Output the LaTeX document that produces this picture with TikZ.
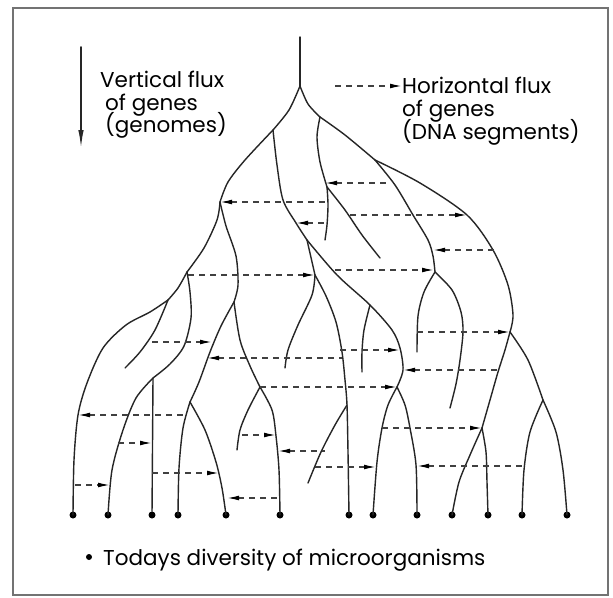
\documentclass[tikz,border=0pt]{standalone}
\usepackage{fontspec}
\setmainfont{Poppins}
\usetikzlibrary{arrows.meta}

\begin{document}
\begin{tikzpicture}[
  x=1pt, y=-1pt,
  font=\fontsize{21.5}{24}\selectfont,
  >={Latex[length=12pt,width=4.8pt,black]},
  lin/.style={line width=1.4pt, black!85, line cap=round},
  flux/.style={line width=1.3pt, black!75, dash pattern=on 6pt off 5pt},
  tipdot/.style={circle, fill=black, inner sep=0pt, minimum size=7pt},
  lbl/.style={anchor=base west, inner sep=0pt}
]
  \useasboundingbox (0,0) rectangle (613,597);
  \fill[white] (0,0) rectangle (613,597);
  \draw[line width=1.2pt, black!55] (13,8) rectangle (608,595);

  % legend
  \coordinate (vtop) at (81,47);
  \coordinate (vbot) at (81,148);
  \draw[lin, line width=1.6pt, -{Latex[length=18pt,width=5.5pt]}] (vtop) -- (vbot);
  \node[lbl] (vert1) at (100,87) {Vertical flux};
  \node[lbl] (vert2) at (105,110) {of genes};
  \node[lbl] (vert3) at (105,132) {(genomes)};
  \node[lbl] (hor1) at (402,93) {Horizontal flux};
  \node[lbl] (hor2) at (402,116) {of genes};
  \node[lbl] (hor3) at (402,139) {(DNA segments)};
  \coordinate (hstart) at (335,86);
  \draw[flux, ->] (hstart) -- (hor1.west |- hstart);

  % branch points
  \coordinate (R0) at (300,86);
  \coordinate (L1) at (273,130);
  \coordinate (L2) at (220,202);
  \coordinate (L3) at (234,302);
  \coordinate (L4) at (260,387);
  \coordinate (L5) at (187,272);
  \coordinate (L6) at (168,300);
  \coordinate (L7) at (190,402);
  \coordinate (L8) at (153,378);
  \coordinate (M0) at (307,240);
  \coordinate (M1) at (315,275);
  \coordinate (M2) at (397,387);
  \coordinate (D0) at (370,305);
  \coordinate (P0) at (347,405);
  \coordinate (R1) at (320,117);
  \coordinate (R2) at (375,160);
  \coordinate (C1) at (327,187);
  \coordinate (I1) at (435,272);
  \coordinate (O1) at (510,332);
  \coordinate (O2) at (482,428);
  \coordinate (O3) at (543,400);

  % today's lineages
  \node[tipdot] (t1) at (73,515) {};
  \node[tipdot] (t2) at (108,515) {};
  \node[tipdot] (t3) at (152,515) {};
  \node[tipdot] (t4) at (178,515) {};
  \node[tipdot] (t5) at (226,515) {};
  \node[tipdot] (t6) at (280,515) {};
  \node[tipdot] (t7) at (349,515) {};
  \node[tipdot] (t8) at (373,515) {};
  \node[tipdot] (t9) at (417,515) {};
  \node[tipdot] (t10) at (452,515) {};
  \node[tipdot] (t11) at (488,515) {};
  \node[tipdot] (t12) at (522,515) {};
  \node[tipdot] (t13) at (567,515) {};

  % vertical flux
  \draw[lin] (300,37) -- (R0);
  \draw[lin] plot[smooth] coordinates {(R0) (289,110) (L1)};
  \draw[lin] plot[smooth] coordinates {(R0) (308,104) (R1)};
  \draw[lin] plot[smooth] coordinates {(L1) (245,160) (228,182) (L2)};
  \draw[lin] plot[smooth] coordinates {(L1) (277,165) (283,200) (296,223) (M0)};
  \draw[lin] plot[smooth] coordinates {(L2) (217,220) (204,248) (L5)};
  \draw[lin] plot[smooth] coordinates {(L2) (226,226) (236,256) (238,285) (L3)};
  \draw[lin] plot[smooth] coordinates {(L5) (178,288) (L6)};
  \draw[lin] plot[smooth] coordinates {(L5) (190,292) (191,318) (184,346) (170,364) (L8)};
  \draw[lin] plot[smooth] coordinates {(L6) (150,312) (126,325) (103,348) (87,383) (78,415) (74,460) (t1)};
  \draw[lin] plot[smooth] coordinates {(L6) (155,330) (140,352) (125,368)};
  \draw[lin] plot[smooth] coordinates {(L8) (136,398) (123,430) (112,470) (t2)};
  \draw[lin] (L8) -- (t3);
  \draw[lin] plot[smooth] coordinates {(L3) (221,326) (210,352) (199,382) (L7)};
  \draw[lin] plot[smooth] coordinates {(L3) (240,340) (250,366) (L4)};
  \draw[lin] plot[smooth] coordinates {(L7) (183,428) (179,468) (t4)};
  \draw[lin] plot[smooth] coordinates {(L7) (205,430) (216,462) (222,488) (t5)};
  \draw[lin] plot[smooth] coordinates {(L4) (248,410) (240,430) (237,450)};
  \draw[lin] plot[smooth] coordinates {(L4) (272,410) (276,436) (279,470) (t6)};
  \draw[lin] plot[smooth] coordinates {(M0) (M1)};
  \draw[lin] plot[smooth] coordinates {(M0) (337,275) (D0) (392,330) (400,348) (403,370) (M2)};
  \draw[lin] plot[smooth] coordinates {(D0) (364,330) (362,352) (362,372)};
  \draw[lin] plot[smooth] coordinates {(M1) (312,295) (298,325) (288,350) (285,368)};
  \draw[lin] plot[smooth] coordinates {(M1) (326,296) (336,322) (342,352) (345,380) (P0) (348,452) (t7)};
  \draw[lin] plot[smooth] coordinates {(P0) (335,425) (321,452) (308,483)};
  \draw[lin] plot[smooth] coordinates {(M2) (388,405) (382,428) (377,462) (t8)};
  \draw[lin] plot[smooth] coordinates {(M2) (405,405) (410,428) (416,465) (t9)};
  \draw[lin] plot[smooth] coordinates {(R1) (345,135) (R2)};
  \draw[lin] plot[smooth] coordinates {(R1) (317,137) (320,162) (C1)};
  \draw[lin] plot[smooth] coordinates {(C1) (328,205) (327,225) (325,240)};
  \draw[lin] plot[smooth] coordinates {(C1) (345,210) (362,235) (380,258)};
  \draw[lin] plot[smooth] coordinates {(R2) (420,183) (467,215) (493,250) (508,285) (513,315) (O1)};
  \draw[lin] plot[smooth] coordinates {(R2) (395,185) (413,215) (428,240) (433,256) (I1)};
  \draw[lin] plot[smooth] coordinates {(I1) (424,292) (418,316) (417,352)};
  \draw[lin] plot[smooth] coordinates {(I1) (452,290) (461,312) (463,332) (460,360) (456,384) (450,408)};
  \draw[lin] plot[smooth] coordinates {(O1) (505,350) (498,372) (490,400) (O2)};
  \draw[lin] plot[smooth] coordinates {(O1) (528,360) (O3)};
  \draw[lin] plot[smooth] coordinates {(O2) (470,455) (459,482) (t10)};
  \draw[lin] plot[smooth] coordinates {(O2) (486,452) (487,482) (t11)};
  \draw[lin] plot[smooth] coordinates {(O3) (530,432) (524,470) (t12)};
  \draw[lin] plot[smooth] coordinates {(O3) (556,432) (563,470) (t13)};

  % horizontal flux
  \draw[flux, <-] (L2) -- (330,202);
  \draw[flux, <-] (325,183) -- (390,183);
  \draw[flux, <-] (296,223) -- (326,223);
  \draw[flux, ->] (350,215) -- (467,215);
  \draw[flux, <-] (433,250) -- (494,250);
  \draw[flux, ->] (335,270) -- (434,270);
  \draw[flux, ->] (188,275) -- (M1);
  \draw[flux, ->] (152,342) -- (212,342);
  \draw[flux, <-] (207,358) -- (342,358);
  \draw[flux, ->] (340,350) -- (400,350);
  \draw[flux, <-] (403,370) -- (498,370);
  \draw[flux, ->] (417,332) -- (O1);
  \draw[flux, <-] (78,415) -- (187,415);
  \draw[flux, ->] (118,443) -- (152,443);
  \draw[flux, ->] (75,485) -- (110,485);
  \draw[flux, ->] (152,473) -- (219,473);
  \draw[flux, ->] (L4) -- (M2);
  \draw[flux, ->] (242,435) -- (276,435);
  \draw[flux, <-] (227,498) -- (280,498);
  \draw[flux, <-] (278,451) -- (325,451);
  \draw[flux, ->] (315,467) -- (376,467);
  \draw[flux, ->] (382,428) -- (O2);
  \draw[flux, <-] (417,466) -- (526,466);

  % caption
  \node[circle, fill=black, inner sep=0pt, minimum size=6pt] (bul) at (89,557) {};
  \node[lbl] (cap) at (103,565) {Todays diversity of microorganisms};
\end{tikzpicture}
\end{document}
